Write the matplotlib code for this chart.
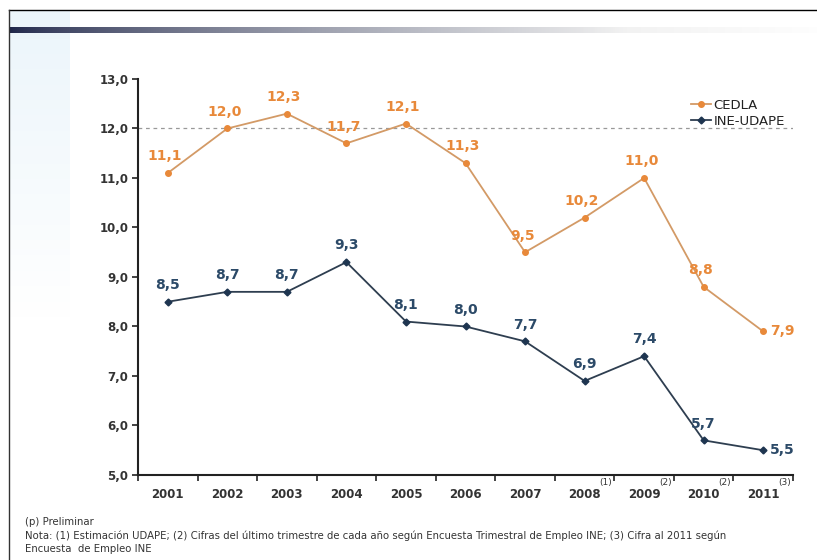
import numpy as np
import matplotlib
matplotlib.use("Agg")
import matplotlib.pyplot as plt
from matplotlib.lines import Line2D
from matplotlib.transforms import blended_transform_factory

years = ["2001", "2002", "2003", "2004", "2005", "2006", "2007", "2008", "2009", "2010", "2011"]
year_notes = ["", "", "", "", "", "", "", "(1)", "(2)", "(2)", "(3)"]
cedla = [11.1, 12.0, 12.3, 11.7, 12.1, 11.3, 9.5, 10.2, 11.0, 8.8, 7.9]
ine = [8.5, 8.7, 8.7, 9.3, 8.1, 8.0, 7.7, 6.9, 7.4, 5.7, 5.5]
yticks = [5.0, 6.0, 7.0, 8.0, 9.0, 10.0, 11.0, 12.0, 13.0]
series_names = ["CEDLA", "INE-UDAPE"]
footnotes = [
    "(p) Preliminar",
    "Nota: (1) Estimación UDAPE; (2) Cifras del último trimestre de cada año según Encuesta Trimestral de Empleo INE; (3) Cifra al 2011 según",
    "Encuesta  de Empleo INE",
]

W, H = 817, 560
fig = plt.figure(figsize=(W / 100, H / 100), dpi=100)
fig.patch.set_facecolor("white")

# decorative slide elements
bg = fig.add_axes([0, 0, 1, 1], zorder=-10)
bg.set_xlim(0, W)
bg.set_ylim(H, 0)
bg.axis("off")
# light blue panel on left
grad_v = np.linspace(1, 0, 200).reshape(-1, 1)
panel = np.ones((200, 1, 4))
panel[..., 0] = 0.86
panel[..., 1] = 0.93
panel[..., 2] = 0.97
panel[..., 3] = grad_v * 0.55
bg.imshow(panel, extent=[9, 70, 320, 11], aspect="auto", zorder=0)
# gradient bar
n = 400
t = np.linspace(0, 1, n)
bar = np.ones((1, n, 4))
c0 = np.array([0.11, 0.14, 0.28])
c1 = np.array([0.94, 0.94, 0.94])
mix = np.clip(t * 1.3, 0, 1) ** 0.7
for k in range(3):
    bar[0, :, k] = c0[k] * (1 - mix) + c1[k] * mix
bar[0, :, 3] = 1 - np.clip((t - 0.7) / 0.3, 0, 1) * 0.9
bg.imshow(bar, extent=[9, 817, 33, 27], aspect="auto", zorder=1)
# border lines
bg.plot([9, 817], [10, 10], color="black", lw=1.0, zorder=2)
bg.plot([9, 9], [10, 560], color="#333333", lw=1.0, zorder=2)

ax = fig.add_axes([138 / W, 1 - 475 / H, (793 - 138) / W, (475 - 79) / H])
ax.set_facecolor("none")
x = np.arange(len(years))

orange = "#E8893A"
orange_line = "#D39A66"
navy = "#1E3550"
navy_text = "#2C4A68"

ax.plot(x, cedla, color=orange_line, lw=1.3, marker="o", ms=4,
        mfc=orange, mec=orange, zorder=3)
ax.plot(x, ine, color="#2E3E50", lw=1.3, marker="D", ms=3.5,
        mfc=navy, mec=navy, zorder=3)

ax.axhline(12.0, color="#999999", lw=0.9, ls=(0, (3, 3)), zorder=1)

ax.set_xlim(-0.5, len(years) - 0.5)
ax.set_ylim(5.0, 13.0)
ax.set_yticks(yticks)
ax.set_yticklabels([f"{v:.1f}".replace(".", ",") for v in yticks],
                   fontsize=8.5, color="#333333", fontweight="bold")
ax.set_xticks(x)
ax.set_xticklabels(years, fontsize=8.5, color="#333333", fontweight="bold")
ax.set_xticks(np.arange(-0.5, len(years)), minor=True)
ax.tick_params(axis="x", which="major", length=0, pad=9)
ax.tick_params(axis="x", which="minor", length=4, width=1.2, color="#222222", direction="out")
ax.tick_params(axis="y", length=4, width=1.2, color="#222222", direction="out", pad=3)
for s in ["top", "right"]:
    ax.spines[s].set_visible(False)
for s in ["left", "bottom"]:
    ax.spines[s].set_color("#222222")
    ax.spines[s].set_linewidth(1.5)

# superscripts on year labels
tr = blended_transform_factory(ax.transData, ax.transAxes)
for i, note in enumerate(year_notes):
    if note:
        ax.text(i + 0.25, -0.02, note, transform=tr, fontsize=6.5, color="#333333",
                ha="left", va="center")

def lab(v):
    return f"{v:.1f}".replace(".", ",")

# data labels
for i, v in enumerate(cedla):
    if i == len(cedla) - 1:
        ax.annotate(lab(v), (i, v), xytext=(5, 0), textcoords="offset points",
                    ha="left", va="center", fontsize=10, fontweight="bold", color=orange)
    else:
        ax.annotate(lab(v), (i, v), xytext=(-2, 7), textcoords="offset points",
                    ha="center", va="bottom", fontsize=10, fontweight="bold", color=orange)
for i, v in enumerate(ine):
    if i == len(ine) - 1:
        ax.annotate(lab(v), (i, v), xytext=(5, 0), textcoords="offset points",
                    ha="left", va="center", fontsize=10, fontweight="bold", color=navy_text)
    else:
        ax.annotate(lab(v), (i, v), xytext=(0, 7), textcoords="offset points",
                    ha="center", va="bottom", fontsize=10, fontweight="bold", color=navy_text)

handles = [
    Line2D([], [], color=orange_line, lw=1.3, marker="o", ms=4, mfc=orange, mec=orange),
    Line2D([], [], color="#2E3E50", lw=1.3, marker="D", ms=3.5, mfc=navy, mec=navy),
]
leg = ax.legend(handles, series_names, loc="upper right", bbox_to_anchor=(1.0, 0.97),
                frameon=False, fontsize=9.5, handlelength=1.5, handletextpad=0.2,
                labelspacing=0.25, borderaxespad=0.2)
for t_ in leg.get_texts():
    t_.set_color("#222222")

# footnotes
ys = [522, 536, 549]
for txt, yy in zip(footnotes, ys):
    fig.text(25 / W, 1 - yy / H, txt, fontsize=7.3, color="#333333", ha="left", va="center")

fig.savefig("out.png", dpi=100)
